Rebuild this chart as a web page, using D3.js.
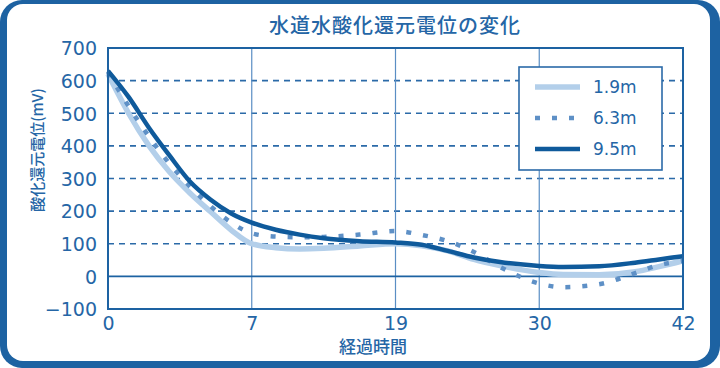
<!DOCTYPE html>
<html><head><meta charset="utf-8">
<script src="https://cdn.jsdelivr.net/npm/d3@7"></script>
<style>
html,body{margin:0;padding:0;background:#fff;}
svg{display:block;}
</style></head>
<body>
<svg id="chart" width="720" height="368"></svg>
<script>
const title = "水道水酸化還元電位の変化";
const yTitle = "酸化還元電位(mV)";
const xTitle = "経過時間";
const xTicks = [0, 7, 19, 30, 42];
const yTicks = [-100, 0, 100, 200, 300, 400, 500, 600, 700];
const times = [0,1,2,3,4,5,6,7,9,11,13,16,19,21,23,25,27,30,32,35,38,40,42];
const s19 = [620,500,400,320,255,198,142,100,88,84,86,93,100,94,78,52,33,12,6,5,14,30,48];
const s63 = [625,522,428,345,275,215,165,132,122,120,121,128,139,127,108,75,29,-22,-33,-24,10,35,47];
const s95 = [630,550,455,370,290,235,193,165,143,128,117,108,104,97,78,58,44,32,29,31,42,52,62];
const seriesNames = ["1.9m", "6.3m", "9.5m"];

const blue = "#1d62a2";
const svg = d3.select("#chart");

// frame
svg.append("rect").attr("x",0).attr("y",0).attr("width",720).attr("height",368).attr("rx",22).attr("fill",blue);
svg.append("rect").attr("x",7).attr("y",4).attr("width",703).attr("height",357).attr("rx",16).attr("fill","#fff");

const L = 108, R = 683, T = 48, B = 309;
const step = (R - L) / (xTicks.length - 1);
const x = d3.scaleLinear().domain(xTicks).range(xTicks.map((d,i) => L + i*step));
const y = d3.scaleLinear().domain([-100, 700]).range([B, T]);

const g = svg.append("g");

// horizontal dashed grid
g.selectAll(".hg").data(yTicks.filter(v => v > 0 && v < 700)).enter().append("line")
  .attr("x1", L).attr("x2", R).attr("y1", d => y(d)).attr("y2", d => y(d))
  .attr("stroke", "#2b6aa8").attr("stroke-width", 1.6).attr("stroke-dasharray", "6,5");
// vertical grid
g.selectAll(".vg").data(xTicks.slice(1, -1)).enter().append("line")
  .attr("x1", d => x(d)).attr("x2", d => x(d)).attr("y1", T).attr("y2", B)
  .attr("stroke", "#5a8ec4").attr("stroke-width", 1.2);
// zero line
g.append("line").attr("x1", L).attr("x2", R).attr("y1", y(0)).attr("y2", y(0))
  .attr("stroke", blue).attr("stroke-width", 1.6);

// series
const line = d3.line().x((d,i) => x(times[i])).y(d => y(d)).curve(d3.curveMonotoneX);
const styles = [
  {data: s19, stroke: "#b3cfea", width: 5.5, dash: null},
  {data: s63, stroke: "#5e90c6", width: 4.5, dash: "5,12"},
  {data: s95, stroke: "#0f5a9b", width: 4.5, dash: null}
];
styles.forEach(s => {
  g.append("path").attr("d", line(s.data)).attr("fill", "none")
    .attr("stroke", s.stroke).attr("stroke-width", s.width)
    .attr("stroke-dasharray", s.dash).attr("stroke-linejoin", "round");
});

// plot border
g.append("rect").attr("x", L).attr("y", T).attr("width", R - L).attr("height", B - T)
  .attr("fill", "none").attr("stroke", blue).attr("stroke-width", 2);

const font = "'DejaVu Sans', sans-serif";
const txt = "#2566a6";

// axes
const yAxis = d3.axisLeft(y).tickValues(yTicks).tickSize(0).tickPadding(11).tickFormat(d3.format("d"));
const ya = svg.append("g").attr("transform", `translate(${L},0)`).call(yAxis);
ya.select(".domain").remove();
ya.selectAll("text").attr("font-family", font).attr("font-size", 19).attr("fill", txt).attr("dy", "0.36em");

const xAxis = d3.axisBottom(x).tickValues(xTicks).tickSize(0).tickPadding(8).tickFormat(d3.format("d"));
const xa = svg.append("g").attr("transform", `translate(0,${B})`).call(xAxis);
xa.select(".domain").remove();
xa.selectAll("text").attr("font-family", font).attr("font-size", 19).attr("fill", txt);

// titles
const cjk = "'Noto Sans CJK JP', sans-serif";
svg.append("text").attr("x", 395).attr("y", 33).attr("text-anchor", "middle")
  .attr("font-family", cjk).attr("font-size", 20).attr("letter-spacing", 1).attr("font-weight", 500)
  .attr("fill", txt).text(title);
svg.append("text").attr("x", 373).attr("y", 353).attr("text-anchor", "middle")
  .attr("font-family", cjk).attr("font-size", 17).attr("font-weight", 500)
  .attr("fill", txt).text(xTitle);
svg.append("text").attr("transform", "translate(43,150) rotate(-90)").attr("text-anchor", "middle")
  .attr("font-family", cjk).attr("font-size", 15).attr("font-weight", 500)
  .attr("fill", txt).text(yTitle);

// legend
const lg = svg.append("g");
lg.append("rect").attr("x", 519).attr("y", 67).attr("width", 143).attr("height", 103)
  .attr("fill", "#fff").attr("stroke", "#2b6aa8").attr("stroke-width", 1.6);
const ly = [87, 118, 149];
styles.forEach((s, i) => {
  lg.append("line").attr("x1", 535).attr("x2", 580).attr("y1", ly[i]).attr("y2", ly[i])
    .attr("stroke", s.stroke).attr("stroke-width", s.width).attr("stroke-dasharray", s.dash);
  lg.append("text").attr("x", 593).attr("y", ly[i]).attr("dy", "0.36em")
    .attr("font-family", font).attr("font-size", 17).attr("fill", txt).text(seriesNames[i]);
});
</script>
</body></html>
